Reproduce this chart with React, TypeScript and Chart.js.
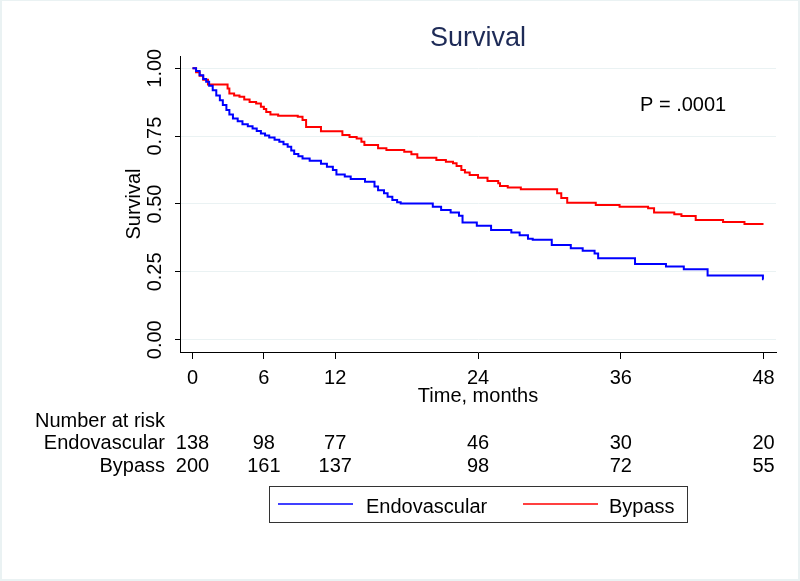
import React, { useEffect, useRef } from "react";
import { Chart, registerables } from "chart.js";

Chart.register(...registerables);

// ---- data ----
const endoTime = [0, 0.3, 0.6, 0.9, 1.15, 1.4, 1.7, 2.0, 2.3, 2.55, 2.85, 3.1, 3.4, 3.8, 4.2, 4.65, 5.05, 5.4, 5.75, 6.1, 6.45, 6.9, 7.3, 7.65, 8.0, 8.3, 8.55, 8.9, 9.25, 9.85, 10.8, 11.3, 11.8, 12.1, 12.8, 13.3, 14.5, 15.3, 15.6, 16.1, 16.4, 16.8, 17.2, 17.5, 20.2, 20.9, 21.7, 22.4, 22.7, 23.9, 25.1, 26.8, 27.5, 28.2, 28.6, 30.2, 31.8, 32.8, 33.8, 34.1, 37.2, 39.8, 41.3, 43.3, 47.95, 48.0];
const endoSurv = [1.0, 0.99, 0.974, 0.96, 0.95, 0.935, 0.919, 0.9, 0.882, 0.865, 0.846, 0.83, 0.815, 0.805, 0.794, 0.786, 0.778, 0.769, 0.76, 0.752, 0.745, 0.737, 0.729, 0.72, 0.711, 0.697, 0.684, 0.676, 0.668, 0.659, 0.648, 0.637, 0.625, 0.609, 0.601, 0.592, 0.582, 0.564, 0.551, 0.54, 0.527, 0.515, 0.506, 0.502, 0.49, 0.478, 0.469, 0.457, 0.432, 0.42, 0.404, 0.395, 0.385, 0.372, 0.368, 0.349, 0.337, 0.328, 0.318, 0.3, 0.279, 0.27, 0.26, 0.237, 0.223, 0.223];

const bypassTime = [0, 0.3, 0.6, 0.9, 1.3, 2.95, 3.1, 3.5, 3.95, 4.35, 4.8, 5.35, 5.75, 6.0, 6.2, 6.55, 7.2, 8.85, 9.25, 9.55, 10.8, 12.6, 13.2, 13.8, 14.2, 14.45, 15.6, 16.3, 17.8, 18.4, 18.9, 20.5, 21.3, 21.9, 22.2, 22.6, 22.9, 23.3, 24.0, 24.8, 25.7, 25.85, 26.5, 27.6, 30.65, 31.0, 31.5, 33.9, 35.9, 38.3, 38.8, 40.5, 41.1, 42.3, 44.6, 46.4, 48.0];
const bypassSurv = [1.0, 0.985, 0.972, 0.958, 0.94, 0.925, 0.907, 0.9, 0.895, 0.885, 0.876, 0.87, 0.858, 0.85, 0.839, 0.83, 0.825, 0.821, 0.809, 0.784, 0.768, 0.754, 0.747, 0.741, 0.729, 0.717, 0.705, 0.699, 0.692, 0.683, 0.67, 0.662, 0.656, 0.65, 0.64, 0.625, 0.616, 0.607, 0.597, 0.585, 0.576, 0.566, 0.561, 0.554, 0.54, 0.522, 0.505, 0.496, 0.49, 0.484, 0.469, 0.462, 0.456, 0.441, 0.434, 0.426, 0.426];

const seriesNames = ["Endovascular", "Bypass"];
const seriesColors = ["#0000ff", "#ff0000"];
const xTicks = [0, 6, 12, 24, 36, 48];
const yTicks = [0, 0.25, 0.5, 0.75, 1];
const riskTimes = [0, 6, 12, 24, 36, 48];
const endoAtRisk = [138, 98, 77, 46, 30, 20];
const bypassAtRisk = [200, 161, 137, 98, 72, 55];
const titleText = "Survival";
const yTitleText = "Survival";
const xTitleText = "Time, months";
const pValueText = "P = .0001";
const riskHeader = "Number at risk";

const FONT = "'Liberation Sans', Arial, Helvetica, sans-serif";
const W = 800;
const H = 581;

const overlay = {
  id: "overlay",
  beforeDraw(chart: any) {
    const ctx = chart.ctx;
    ctx.save();
    ctx.fillStyle = "#ffffff";
    ctx.fillRect(0, 0, W, H);
    ctx.fillStyle = "#eaf2f3";
    ctx.fillRect(0, 0, W, 1);
    ctx.fillRect(0, 0, 2, H);
    ctx.fillRect(W - 2, 0, 2, H);
    ctx.fillRect(0, H - 2, W, 2);
    ctx.restore();
  },
  afterDraw(chart: any) {
    const ctx = chart.ctx;
    const xs = chart.scales.x;
    const area = chart.chartArea;
    ctx.save();
    // title
    ctx.fillStyle = "#1e2b57";
    ctx.font = `27px ${FONT}`;
    ctx.textAlign = "center";
    ctx.textBaseline = "alphabetic";
    ctx.fillText(titleText, (area.left + area.right) / 2, 46);
    // p value
    ctx.fillStyle = "#000";
    ctx.font = `20px ${FONT}`;
    ctx.textAlign = "left";
    ctx.fillText(pValueText, 640, 111);
    // risk table
    ctx.fillText(riskHeader, 35, 427);
    ctx.textAlign = "right";
    ctx.fillText(seriesNames[0], 165, 449);
    ctx.fillText(seriesNames[1], 165, 472);
    ctx.textAlign = "center";
    riskTimes.forEach((t, i) => {
      const px = xs.getPixelForValue(t);
      ctx.fillText(String(endoAtRisk[i]), px, 449);
      ctx.fillText(String(bypassAtRisk[i]), px, 472);
    });
    // legend
    ctx.strokeStyle = "#333";
    ctx.lineWidth = 1;
    ctx.strokeRect(269.5, 486.5, 418, 36);
    const items = [
      { lx: 278, tx: 366 },
      { lx: 523, tx: 609 },
    ];
    items.forEach((it, i) => {
      const ds = chart.data.datasets[i];
      ctx.strokeStyle = ds.borderColor;
      ctx.lineWidth = 1.5;
      ctx.beginPath();
      ctx.moveTo(it.lx, 504);
      ctx.lineTo(it.lx + 75, 504);
      ctx.stroke();
      ctx.fillStyle = "#000";
      ctx.textAlign = "left";
      ctx.fillText(ds.label, it.tx, 513);
    });
    ctx.restore();
  },
};

export default function App() {
  const ref = useRef<HTMLCanvasElement>(null);
  useEffect(() => {
    const canvas = ref.current!;
    const mk = (ts: number[], ss: number[]) => ts.map((t, i) => ({ x: t, y: ss[i] }));
    const chart = new Chart(canvas, {
      type: "line",
      data: {
        datasets: [
          {
            label: seriesNames[0],
            data: mk(endoTime, endoSurv),
            borderColor: seriesColors[0],
            borderWidth: 2,
            pointRadius: 0,
            stepped: "before",
            fill: false,
          },
          {
            label: seriesNames[1],
            data: mk(bypassTime, bypassSurv),
            borderColor: seriesColors[1],
            borderWidth: 2,
            pointRadius: 0,
            stepped: "before",
            fill: false,
          },
        ],
      },
      options: {
        responsive: false,
        animation: false,
        devicePixelRatio: 1,
        layout: { padding: { left: 0, top: 56, right: 24, bottom: 0 } },
        plugins: { legend: { display: false }, tooltip: { enabled: false }, title: { display: false } },
        scales: {
          x: {
            type: "linear",
            min: -1.05,
            max: 49.05,
            afterBuildTicks: (s: any) => {
              s.ticks = xTicks.map((v) => ({ value: v }));
            },
            afterFit: (s: any) => {
              s.height = H - 352;
            },
            grid: { drawOnChartArea: false, drawTicks: true, tickLength: 7, tickColor: "#000", tickWidth: 1 },
            border: { display: true, color: "#000", width: 1 },
            ticks: {
              autoSkip: false,
              maxRotation: 0,
              minRotation: 0,
              padding: 7,
              color: "#000",
              font: { family: FONT, size: 20 },
              callback: (v: any) => String(v),
            },
            title: {
              display: true,
              text: xTitleText,
              color: "#000",
              font: { family: FONT, size: 20 },
              padding: { top: 0, bottom: 173 },
            },
          },
          y: {
            type: "linear",
            min: -0.045,
            max: 1.045,
            afterBuildTicks: (s: any) => {
              s.ticks = yTicks.map((v) => ({ value: v }));
            },
            afterFit: (s: any) => {
              s.width = 180;
            },
            grid: { color: "#eaf2f3", lineWidth: 1, drawTicks: true, tickLength: 5, tickColor: "#000" },
            border: { display: true, color: "#000", width: 1 },
            ticks: {
              minRotation: 90,
              maxRotation: 90,
              crossAlign: "center",
              padding: 0,
              color: "#000",
              font: { family: FONT, size: 20 },
              callback: (v: any) => Number(v).toFixed(2),
            },
            title: {
              display: true,
              text: yTitleText,
              color: "#000",
              font: { family: FONT, size: 20 },
              padding: { top: 122, bottom: 0 },
            },
          },
        },
      },
      plugins: [overlay],
    } as any);
    return () => chart.destroy();
  }, []);
  return (
    <div style={{ position: "absolute", left: 0, top: 0, width: W, height: H, background: "#fff" }}>
      <canvas ref={ref} width={W} height={H} style={{ display: "block", width: W, height: H }} />
    </div>
  );
}
